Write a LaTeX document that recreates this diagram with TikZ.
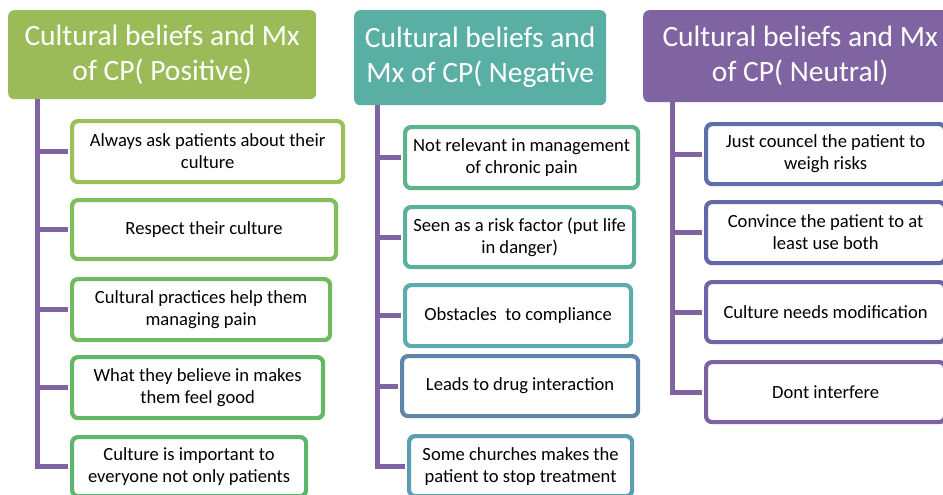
\documentclass[tikz,border=0pt]{standalone}
\usepackage{fontspec}
\setmainfont{Carlito}
\usepackage{tikz}
\usetikzlibrary{positioning}

\definecolor{hdpos}{HTML}{9BBB59}
\definecolor{hdneg}{HTML}{5AAFA5}
\definecolor{hdneu}{HTML}{8064A2}
\definecolor{spinec}{HTML}{8064A2}

\begin{document}
\begin{tikzpicture}[x=1pt, y=-1pt,
		head/.style={rectangle, rounded corners=6pt, anchor=north west, text=white, align=center, font=\fontsize{29.5}{35}\selectfont, inner sep=0pt},
		item/.style={draw, rectangle, rounded corners=6pt, line width=4.2pt, fill=white, anchor=north west, align=center, text=black, font=\fontsize{18.6}{22}\selectfont, inner sep=0pt},
		spine/.style={draw=spinec, line width=5pt, shorten >=2.1pt}]
		\useasboundingbox[fill=white] (0,0) rectangle (943,495);
		\node[head, fill=hdpos, minimum width=308pt, minimum height=89pt] (pos) at (8, 10) {Cultural beliefs and Mx\\of CP( Positive)};
		\node[head, fill=hdneg, minimum width=252pt, minimum height=95pt] (neg) at (354, 10) {Cultural beliefs and\\Mx of CP( Negative};
		\node[head, fill=hdneu, minimum width=314pt, minimum height=92pt] (neu) at (643, 10) {Cultural beliefs and Mx\\of CP( Neutral)};
		% positive
		\node[item, draw={rgb,255:red,155;green,192;blue,90}, minimum width=271pt, minimum height=61pt] (pos_1) at (70, 119) {Always ask patients about their\\culture};
		\node[item, draw={rgb,255:red,128;green,190;blue,92}, minimum width=264pt, minimum height=59pt] (pos_2) at (70, 198) {Respect their culture};
		\node[item, draw={rgb,255:red,112;green,186;blue,96}, minimum width=258pt, minimum height=61pt] (pos_3) at (70, 277) {Cultural practices help them\\managing pain};
		\node[item, draw={rgb,255:red,98;green,184;blue,100}, minimum width=251pt, minimum height=61pt] (pos_4) at (70, 355) {What they believe in makes\\them feel good};
		\node[item, draw={rgb,255:red,92;green,182;blue,110}, minimum width=234pt, minimum height=59pt] (pos_5) at (70, 435) {Culture is important to\\everyone not only patients};
		% negative
		\node[item, draw={rgb,255:red,93;green,180;blue,138}, minimum width=233pt, minimum height=61pt] (neg_1) at (403, 125) {Not relevant in management\\of chronic pain};
		\node[item, draw={rgb,255:red,91;green,176;blue,155}, minimum width=229pt, minimum height=60pt] (neg_2) at (403, 205) {Seen as a risk factor (put life\\in danger)};
		\node[item, draw={rgb,255:red,91;green,173;blue,171}, minimum width=226pt, minimum height=61pt] (neg_3) at (403, 283) {Obstacles\ \ to compliance};
		\node[item, draw={rgb,255:red,95;green,133;blue,168}, minimum width=236pt, minimum height=60pt] (neg_4) at (400, 354) {Leads to drug interaction};
		\node[item, draw={rgb,255:red,92;green,157;blue,178}, minimum width=223pt, minimum height=60pt] (neg_5) at (407, 434) {Some churches makes the\\patient to stop treatment};
		% neutral
		\node[item, draw={rgb,255:red,95;green,110;blue,169}, minimum width=239pt, minimum height=60pt] (neu_1) at (704, 122) {Just councel the patient to\\weigh risks};
		\node[item, draw={rgb,255:red,102;green,103;blue,168}, minimum width=239pt, minimum height=61pt] (neu_2) at (704, 200) {Convince the patient to at\\least use both};
		\node[item, draw={rgb,255:red,112;green,100;blue,167}, minimum width=239pt, minimum height=60pt] (neu_3) at (704, 280) {Culture needs modification};
		\node[item, draw={rgb,255:red,125;green,98;blue,163}, minimum width=239pt, minimum height=60pt] (neu_4) at (704, 360) {Dont interfere};
		\foreach \i in {5,4,3,2,1}
			\draw[spine] ([xshift=29pt]pos.south west) |- (pos_\i.west);
		\foreach \i in {5,4,3,2,1}
			\draw[spine] ([xshift=23pt]neg.south west) |- (neg_\i.west);
		\foreach \i in {4,3,2,1}
			\draw[spine] ([xshift=29pt]neu.south west) |- (neu_\i.west);
	\end{tikzpicture}
\end{document}
